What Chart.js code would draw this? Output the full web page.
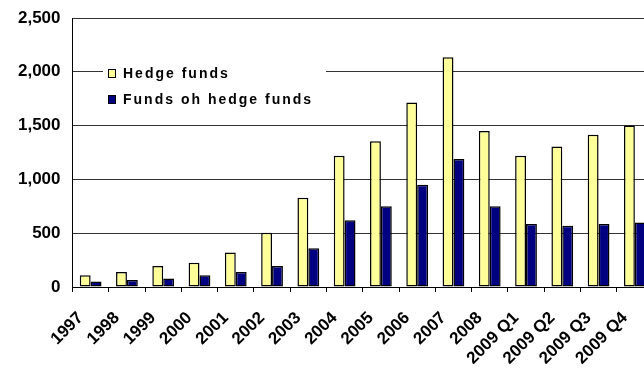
<!DOCTYPE html>
<html>
<head>
<meta charset="utf-8">
<script src="https://cdn.jsdelivr.net/npm/chart.js@4/dist/chart.umd.min.js"></script>
<style>
  html, body { margin: 0; padding: 0; background: #fff; overflow: hidden; }
  canvas { display: block; }
</style>
</head>
<body>
<canvas class="chart" width="653" height="368"></canvas>
<script>
const categories = ['1997', '1998', '1999', '2000', '2001', '2002', '2003', '2004', '2005',
  '2006', '2007', '2008', '2009 Q1', '2009 Q2', '2009 Q3', '2009 Q4'];
const hedgeFunds = [110, 140, 195, 225, 320, 505, 830, 1220, 1355, 1715, 2135, 1450, 1220, 1305, 1415, 1500];
const fundsOfFunds = [50, 65, 80, 110, 140, 195, 360, 620, 750, 950, 1190, 750, 585, 570, 585, 600];
const yTicks = [0, 500, 1000, 1500, 2000, 2500];

// legend sits inside the plot, over the 2,000 gridline
const insideLegend = {
  id: 'insideLegend',
  afterDraw(chart) {
    const ctx = chart.ctx;
    ctx.save();
    ctx.fillStyle = '#fff';
    ctx.fillRect(103, 58, 223, 54);
    ctx.font = 'bold 14px Arial, "Liberation Sans", sans-serif';
    ctx.letterSpacing = '2px';
    ctx.textBaseline = 'alphabetic';
    chart.data.datasets.forEach((ds, i) => {
      const y = 69 + i * 26;
      ctx.fillStyle = ds.backgroundColor;
      ctx.fillRect(108.5, y + 0.5, 7, 8);
      ctx.strokeStyle = '#000';
      ctx.lineWidth = 1;
      ctx.strokeRect(108.5, y + 0.5, 7, 8);
      ctx.fillStyle = '#000';
      ctx.fillText(ds.label, 123, y + 9);
    });
    ctx.restore();
  }
};

function drawChart() {
  new Chart(document.querySelector('.chart'), {
    type: 'bar',
    data: {
      labels: categories,
      datasets: [
        {
          label: 'Hedge funds',
          data: hedgeFunds,
          backgroundColor: '#FFFF99',
          borderColor: '#000',
          borderWidth: 1.5,
          borderSkipped: false
        },
        {
          label: 'Funds oh hedge funds',
          data: fundsOfFunds,
          backgroundColor: '#000080',
          borderColor: '#000',
          borderWidth: 1.5,
          borderSkipped: false
        }
      ]
    },
    options: {
      responsive: false,
      animation: false,
      layout: { padding: { top: 18, right: 0, left: 0, bottom: 0 } },
      datasets: { bar: { categoryPercentage: 0.6, barPercentage: 1 } },
      plugins: {
        legend: { display: false },
        tooltip: { enabled: false }
      },
      scales: {
        x: {
          grid: { drawOnChartArea: false, drawTicks: true, tickLength: 5, color: '#000', offset: true },
          border: { color: '#000', width: 1 },
          ticks: {
            color: '#000',
            font: { family: 'Arial, "Liberation Sans", sans-serif', size: 17, weight: 'bold' },
            maxRotation: 45, minRotation: 45,
            autoSkip: false,
            padding: 16,
            labelOffset: -10
          },
          afterFit(axis) {
            axis.height = 81;
            axis.paddingLeft = 0;
            axis.paddingRight = 0;
          }
        },
        y: {
          min: 0, max: 2500,
          afterBuildTicks(axis) { axis.ticks = yTicks.map(v => ({ value: v })); },
          grid: { color: '#333', lineWidth: 1, drawTicks: false },
          border: { color: '#000', width: 1 },
          ticks: {
            color: '#000',
            padding: 12,
            font: { family: 'Arial, "Liberation Sans", sans-serif', size: 17, weight: 'bold' },
            callback: v => v.toLocaleString('en-US')
          },
          afterFit(axis) {
            axis.width = 72.5;
            axis.paddingTop = 0;
            axis.paddingBottom = 0;
          }
        }
      }
    },
    plugins: [insideLegend]
  });
}

drawChart();
</script>
</body>
</html>
